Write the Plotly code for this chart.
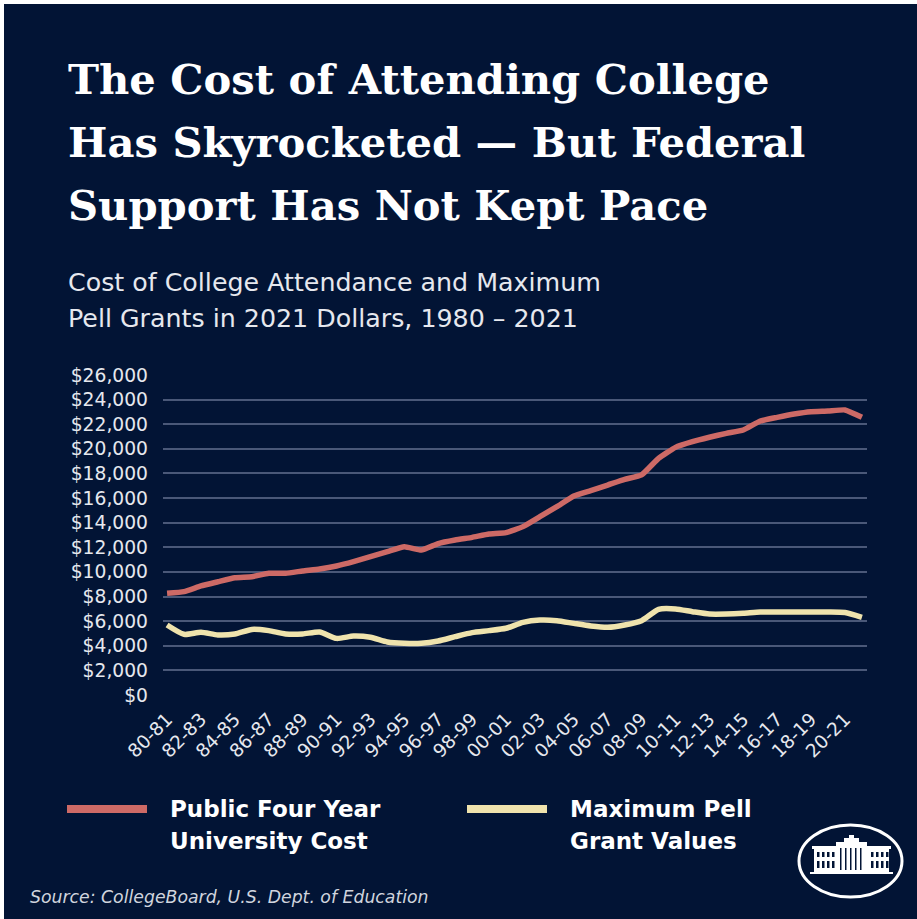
import plotly.graph_objects as go

# ---------------- data ----------------
years = ["80-81", "81-82", "82-83", "83-84", "84-85", "85-86", "86-87", "87-88", "88-89", "89-90",
         "90-91", "91-92", "92-93", "93-94", "94-95", "95-96", "96-97", "97-98", "98-99", "99-00",
         "00-01", "01-02", "02-03", "03-04", "04-05", "05-06", "06-07", "07-08", "08-09", "09-10",
         "10-11", "11-12", "12-13", "13-14", "14-15", "15-16", "16-17", "17-18", "18-19", "19-20",
         "20-21", "21-22"]
public_cost = [8260, 8400, 8860, 9200, 9530, 9610, 9890, 9890, 10080, 10240,
               10480, 10830, 11240, 11650, 12050, 11780, 12300, 12590, 12810, 13080,
               13190, 13680, 14490, 15300, 16170, 16600, 17060, 17520, 17880, 19230,
               20120, 20580, 20940, 21260, 21530, 22260, 22560, 22830, 23020, 23070,
               23160, 22560]
pell_max = [5690, 4930, 5100, 4880, 4960, 5330, 5230, 4960, 4960, 5120,
            4600, 4790, 4690, 4310, 4200, 4200, 4390, 4740, 5070, 5230,
            5420, 5900, 6090, 6040, 5820, 5610, 5500, 5690, 6040, 6960,
            6990, 6770, 6580, 6580, 6640, 6740, 6740, 6740, 6740, 6740,
            6700, 6310]
tick_labels = years[::2]
y_ticks = list(range(0, 26001, 2000))
y_tick_text = ["${:,}".format(v) for v in y_ticks]

title_lines = ["The Cost of Attending College",
               "Has Skyrocketed — But Federal",
               "Support Has Not Kept Pace"]
subtitle_lines = ["Cost of College Attendance and Maximum",
                  "Pell Grants in 2021 Dollars, 1980 – 2021"]
legend_public = ["Public Four Year", "University Cost"]
legend_pell = ["Maximum Pell", "Grant Values"]
source_text = "Source: CollegeBoard, U.S. Dept. of Education"

# ---------------- style ----------------
W, H = 917, 919
BG = "#021435"
RED = "#cd6a66"
YEL = "#efe3ad"
GRID = "#4a5878"
TXT = "#e6e8ee"
SANS = "DejaVu Sans"
L, R, T, B = 163, 867, 375, 695  # plot area in pixels


def px(x):
    return (x - L) / (R - L)


def py(y):
    return (B - y) / (B - T)


fig = go.Figure()
fig.add_trace(go.Scatter(x=years, y=public_cost, mode="lines",
                         line=dict(color=RED, width=5.5, shape="spline", smoothing=0.4),
                         showlegend=False, hoverinfo="skip"))
fig.add_trace(go.Scatter(x=years, y=pell_max, mode="lines",
                         line=dict(color=YEL, width=5.5, shape="spline", smoothing=0.6),
                         showlegend=False, hoverinfo="skip"))

annotations = []
title_y = [79, 142, 205]
for t, yy in zip(title_lines, title_y):
    annotations.append(dict(text="<b>%s</b>" % t, x=px(66), y=py(yy), xref="paper", yref="paper",
                            xanchor="left", yanchor="middle", showarrow=False,
                            font=dict(family="DejaVu Serif", size=41.7, color="white")))
sub_y = [282, 318]
for t, yy in zip(subtitle_lines, sub_y):
    annotations.append(dict(text=t, x=px(66), y=py(yy), xref="paper", yref="paper",
                            xanchor="left", yanchor="middle", showarrow=False,
                            font=dict(family=SANS, size=25.3, color=TXT)))
leg_y = [809, 841]
for t, yy in zip(legend_public, leg_y):
    annotations.append(dict(text="<b>%s</b>" % t, x=px(168), y=py(yy), xref="paper", yref="paper",
                            xanchor="left", yanchor="middle", showarrow=False,
                            font=dict(family=SANS, size=23, color="white")))
for t, yy in zip(legend_pell, leg_y):
    annotations.append(dict(text="<b>%s</b>" % t, x=px(568), y=py(yy), xref="paper", yref="paper",
                            xanchor="left", yanchor="middle", showarrow=False,
                            font=dict(family=SANS, size=23, color="white")))
annotations.append(dict(text="<i>%s</i>" % source_text, x=px(28), y=py(897), xref="paper", yref="paper",
                        xanchor="left", yanchor="middle", showarrow=False,
                        font=dict(family=SANS, size=17.3, color="#d0d4de")))

shapes = []
# white border strips (top and left)
shapes.append(dict(type="rect", xref="paper", yref="paper", x0=px(0), x1=px(W), y0=py(4), y1=py(0),
                   fillcolor="white", line=dict(width=0), layer="below"))
shapes.append(dict(type="rect", xref="paper", yref="paper", x0=px(0), x1=px(4), y0=py(H), y1=py(0),
                   fillcolor="white", line=dict(width=0), layer="below"))
# legend swatches
shapes.append(dict(type="line", xref="paper", yref="paper", x0=px(67), x1=px(147), y0=py(809), y1=py(809),
                   line=dict(color=RED, width=8)))
shapes.append(dict(type="line", xref="paper", yref="paper", x0=px(467), x1=px(547), y0=py(809), y1=py(809),
                   line=dict(color=YEL, width=8)))
# logo: ellipse
shapes.append(dict(type="circle", xref="paper", yref="paper", x0=px(799), x1=px(902), y0=py(897), y1=py(825),
                   line=dict(color="white", width=3)))


def rect(x0, y0, x1, y1, color="white"):
    shapes.append(dict(type="rect", xref="paper", yref="paper", x0=px(x0), x1=px(x1), y0=py(y1), y1=py(y0),
                       fillcolor=color, line=dict(width=0)))


rect(814, 848, 889, 872)          # main body
rect(812, 846, 891, 849)          # cornice
rect(836, 842, 867, 873)          # central block
rect(844, 838, 859, 842)          # pediment
rect(849, 835, 854, 838)          # top
rect(810, 872, 893, 874)          # base
for wx in [817, 822, 827, 832, 871, 876, 881, 886]:
    rect(wx, 852, wx + 2.5, 857, BG)
    rect(wx, 861, wx + 2.5, 868, BG)
for wx in [840, 845, 850, 855, 860]:
    rect(wx, 848, wx + 1.5, 870, BG)

fig.update_layout(
    width=W, height=H,
    margin=dict(l=L, r=W - R, t=T, b=H - B, pad=0),
    paper_bgcolor=BG, plot_bgcolor=BG,
    annotations=annotations, shapes=shapes,
    showlegend=False,
    xaxis=dict(type="category", range=[-0.24, 41.3], tickmode="array",
               tickvals=tick_labels, ticktext=tick_labels, tickangle=-45,
               showgrid=False, zeroline=False, showline=False, ticks="",
               ticklabelstandoff=9,
               tickfont=dict(family=SANS, size=18.5, color=TXT)),
    yaxis=dict(range=[0, 26000], tickmode="array", tickvals=y_ticks, ticktext=y_tick_text,
               showgrid=True, gridcolor=GRID, gridwidth=1.5, zeroline=False, showline=False,
               ticks="", ticklabelstandoff=14,
               tickfont=dict(family=SANS, size=18.7, color=TXT)),
)

fig.write_html("out.html", config={"displayModeBar": False},
               post_script="document.body.style.margin='0px';document.body.style.overflow='hidden';")
